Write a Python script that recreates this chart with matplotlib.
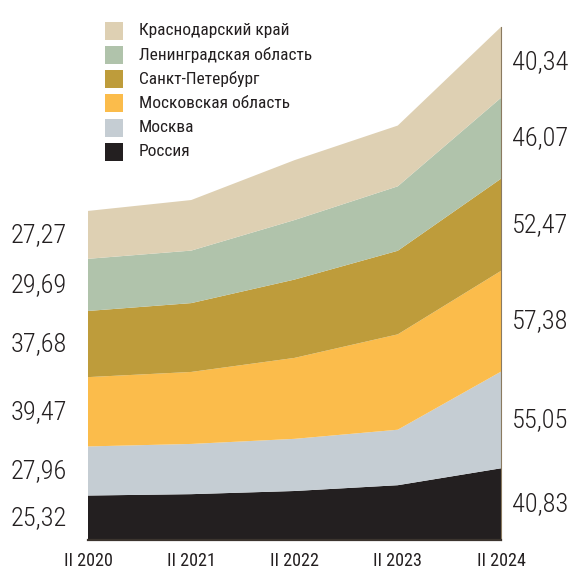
import matplotlib
matplotlib.use('Agg')
import matplotlib.pyplot as plt
from matplotlib import font_manager
from matplotlib.patches import Rectangle
import numpy as np

# data (II quarter of each year)
periods = ['II 2020', 'II 2021', 'II 2022', 'II 2023', 'II 2024']
regions = ['Россия', 'Москва', 'Московская область', 'Санкт-Петербург',
           'Ленинградская область', 'Краснодарский край']
russia = [25.32, 26.1, 27.9, 31.2, 40.83]
moscow = [27.96, 28.6, 29.7, 31.6, 55.05]
moscow_obl = [39.47, 41.0, 46.1, 54.3, 57.38]
spb = [37.68, 39.2, 44.6, 47.6, 52.47]
len_obl = [29.69, 29.9, 33.9, 36.7, 46.07]
krasnodar = [27.27, 28.8, 34.1, 34.6, 40.34]
colors = ['#231f20', '#c5cdd3', '#fbbc4b', '#be9c3b', '#b0c3ab', '#ded0b3']

installed = {f.name for f in font_manager.fontManager.ttflist}


def pick(*names):
    for n in names:
        if n in installed:
            return n
    return 'DejaVu Sans'


narrow = pick('Roboto Condensed', 'Liberation Sans Narrow', 'DejaVu Sans')
W, H = 571, 569


def fx(px):
    return px / W


def fy(py):
    return 1 - py / H


fig = plt.figure(figsize=(W / 100, H / 100), dpi=100)
ax = fig.add_axes([fx(88), fy(540), (501 - 88) / W, 540 / H])

series = [russia, moscow, moscow_obl, spb, len_obl, krasnodar]
x = np.arange(len(periods))
ax.stackplot(x, series, colors=colors, linewidth=0)
ax.set_xlim(0, len(periods) - 1)
ax.set_ylim(0, 307.5)

cum = np.cumsum(np.array(series), axis=0)

for s in ['left', 'top']:
    ax.spines[s].set_visible(False)
ax.spines['right'].set_color('#8a7a60')
ax.spines['right'].set_linewidth(0.8)
ax.spines['right'].set_bounds(0, cum[-1][-1])
ax.spines['bottom'].set_color('#3b342e')
ax.spines['bottom'].set_linewidth(1.6)

ax.set_yticks([])
ax.set_xticks(x, periods, fontsize=13, color='#231f20', family=narrow)
ax.tick_params(axis='x', which='major', length=0, pad=9)
ax.set_xticks(x[1:-1], minor=True)
ax.tick_params(axis='x', which='minor', direction='in', length=10, width=2,
               color='white')

for i, vals in enumerate(series):
    for j, dx, ha in [(0, -21, 'right'), (-1, 11, 'left')]:
        mid = cum[i][j] - vals[j] / 2
        ax.annotate(f'{vals[j]:.2f}'.replace('.', ','), xy=(x[j], mid),
                    xytext=(dx * 0.72, 0), textcoords='offset points',
                    ha=ha, va='center', fontsize=19, color='#231f20',
                    family=narrow, fontweight='light')

# legend, top item first
for k, i in enumerate(range(len(regions) - 1, -1, -1)):
    yc = 30.7 + k * 24.2
    fig.add_artist(Rectangle((fx(105), fy(yc + 9)), 18 / W, 18 / H,
                             transform=fig.transFigure, color=colors[i], lw=0))
    fig.text(fx(139), fy(yc), regions[i], ha='left', va='center',
             fontsize=12.5, color='#231f20', family=narrow)

fig.savefig('out.png', dpi=100)
